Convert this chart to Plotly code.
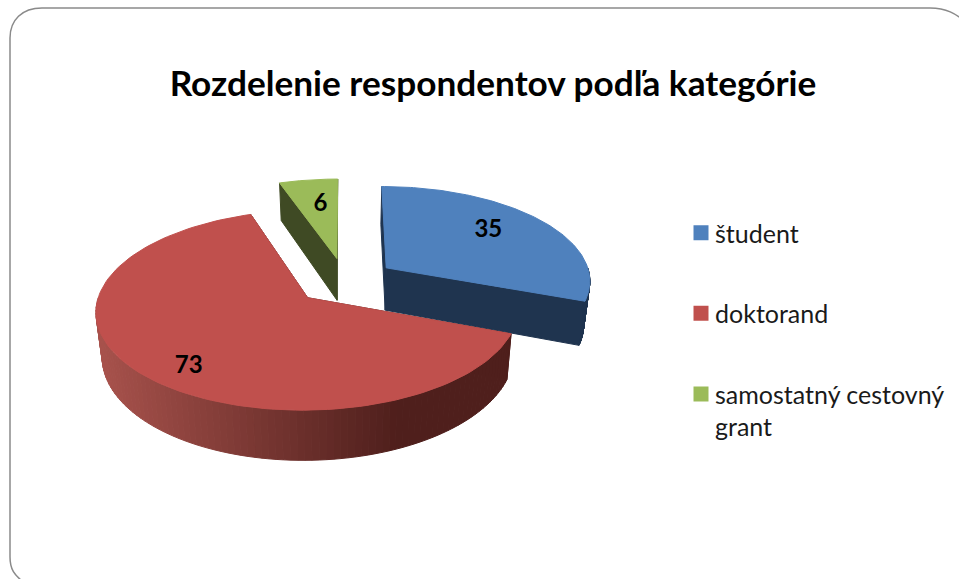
import numpy as np
import plotly.graph_objects as go

categories = ["študent", "doktorand", "samostatný cestovný<br>grant"]
values = [35, 73, 6]
top_colors = ["#4f81bd", "#c0504d", "#9bbb59"]
wall_colors = ["#1f344f", "#4f1f1c", "#3f4a24"]
title_text = "Rozdelenie respondentov podľa kategórie"
label_radius = [0.69, 0.825, 0.66]
label_sweep = [0.47, 0.466, 0.58]

W, H = 959, 579
CX, CY = 345, 281
R, PULL, TILT, DEPTH, THICK, BOTTOM_SCALE = 205, 51, 0.46, 1680, 43, 0.975


def project(X, Z, lower=False):
    X, Z = np.asarray(X, float), np.asarray(Z, float)
    s = DEPTH / (DEPTH + Z)
    k = BOTTOM_SCALE if lower else 1.0
    return CX + X * s * k, CY - TILT * Z * s + (THICK * s if lower else 0)


def polar(t, r, cx0, cz0):
    return cx0 + r * np.sin(t), cz0 + r * np.cos(t)


def poly(xs, ys, color, line=None, width=1):
    return go.Scatter(x=list(xs) + [xs[0]], y=list(ys) + [ys[0]], mode="lines", fill="toself",
                      fillcolor=color, line=dict(color=line or color, width=width),
                      hoverinfo="skip", showlegend=False)


def mix(a, b, f):
    ca = [int(a[i:i + 2], 16) for i in (1, 3, 5)]
    cb = [int(b[i:i + 2], 16) for i in (1, 3, 5)]
    return "rgb(%d,%d,%d)" % tuple(round(u + (v - u) * f) for u, v in zip(ca, cb))


fig = go.Figure()
total = sum(values)
edges = np.cumsum([0] + values) / total * 2 * np.pi
labels = []
for idx in (2, 0, 1):
    a0, a1 = edges[idx], edges[idx + 1]
    mid = (a0 + a1) / 2
    c0, z0 = PULL * np.sin(mid), PULL * np.cos(mid)
    ts = np.linspace(a0, a1, 121)
    rx, rz = polar(ts, R, c0, z0)

    for a in (a0, a1):
        ex, ez = polar(a, R, c0, z0)
        tx, ty = project([c0, ex], [z0, ez])
        bx, by = project([c0, ex], [z0, ez], lower=True)
        fig.add_trace(poly([tx[0], tx[1], bx[1], bx[0]], [ty[0], ty[1], by[1], by[0]], wall_colors[idx]))

    n = 90
    vis = np.linspace(max(a0, np.pi / 2), min(a1, 3 * np.pi / 2), n + 1)
    if vis[-1] > vis[0]:
        for i in range(n):
            sx, sz = polar(vis[i:i + 2], R, c0, z0)
            tx, ty = project(sx, sz)
            bx, by = project(sx, sz, lower=True)
            if idx == 1:
                f = min(1.0, max(0.0, (tx.mean() - 96) / 300))
                col = mix("#a8524c", wall_colors[1], f)
            else:
                col = wall_colors[idx]
            fig.add_trace(poly([tx[0], tx[1], bx[1], bx[0]], [ty[0], ty[1], by[1], by[0]], col))

    xs, ys = project(np.r_[c0, rx], np.r_[z0, rz])
    fig.add_trace(poly(list(xs), list(ys), top_colors[idx]))

    lt = a0 + (a1 - a0) * label_sweep[idx]
    lx, lz = polar(lt, R * label_radius[idx], c0, z0)
    px, py = project(lx, lz)
    labels.append((float(px), float(py), values[idx]))

fig.add_trace(go.Scatter(x=[l[0] for l in labels], y=[l[1] for l in labels],
                         text=[str(l[2]) for l in labels], mode="text",
                         textfont=dict(family="Lato", size=24, color="black", weight="bold"),
                         hoverinfo="skip", showlegend=False))

for name, color in zip(categories, top_colors):
    fig.add_trace(go.Scatter(x=[None], y=[None], mode="markers", name=name, legendgroup=name,
                             marker=dict(symbol="square", size=15, color=color)))

fig.update_layout(
    width=W, height=H, margin=dict(l=0, r=0, t=0, b=0),
    paper_bgcolor="white", plot_bgcolor="white",
    xaxis=dict(range=[0, W], visible=False),
    yaxis=dict(range=[H, 0], visible=False),
    title=dict(text="<b>%s</b>" % title_text, x=493 / W, y=1 - 84 / H, xanchor="center", yanchor="middle",
               font=dict(family="Lato", size=35.2, color="black")),
    legend=dict(x=675 / W, y=1 - 210 / H, xanchor="left", yanchor="top", tracegroupgap=45,
                font=dict(family="Lato", size=25, color="#1a1a1a"), bgcolor="rgba(0,0,0,0)", itemwidth=30),
    shapes=[dict(type="path", xref="x", yref="y",
                 path="M 45,595 L 22,581 C 15,575 10,570 10,557 L 10,38 C 10,20 22,8 42,8 L 930,8 C 944,8 955,11 975,30 L 975,595 Z",
                 line=dict(color="#8a8a8a", width=1.5), fillcolor="rgba(0,0,0,0)", layer="below")],
)

post = """
document.body.style.margin = '0';
document.body.style.overflow = 'hidden';
var gd = document.getElementsByClassName('plotly-graph-div')[0];
function nudge() {
  var items = gd.querySelectorAll('.legend .traces');
  items.forEach(function (item, i) {
    var s = item.querySelector('.legendsymbols');
    if (s) s.setAttribute('transform', 'translate(6,' + (i === 2 ? -16 : 0) + ')');
  });
}
nudge();
"""
fig.write_html("out.html", post_script=post, config={"displayModeBar": False})
